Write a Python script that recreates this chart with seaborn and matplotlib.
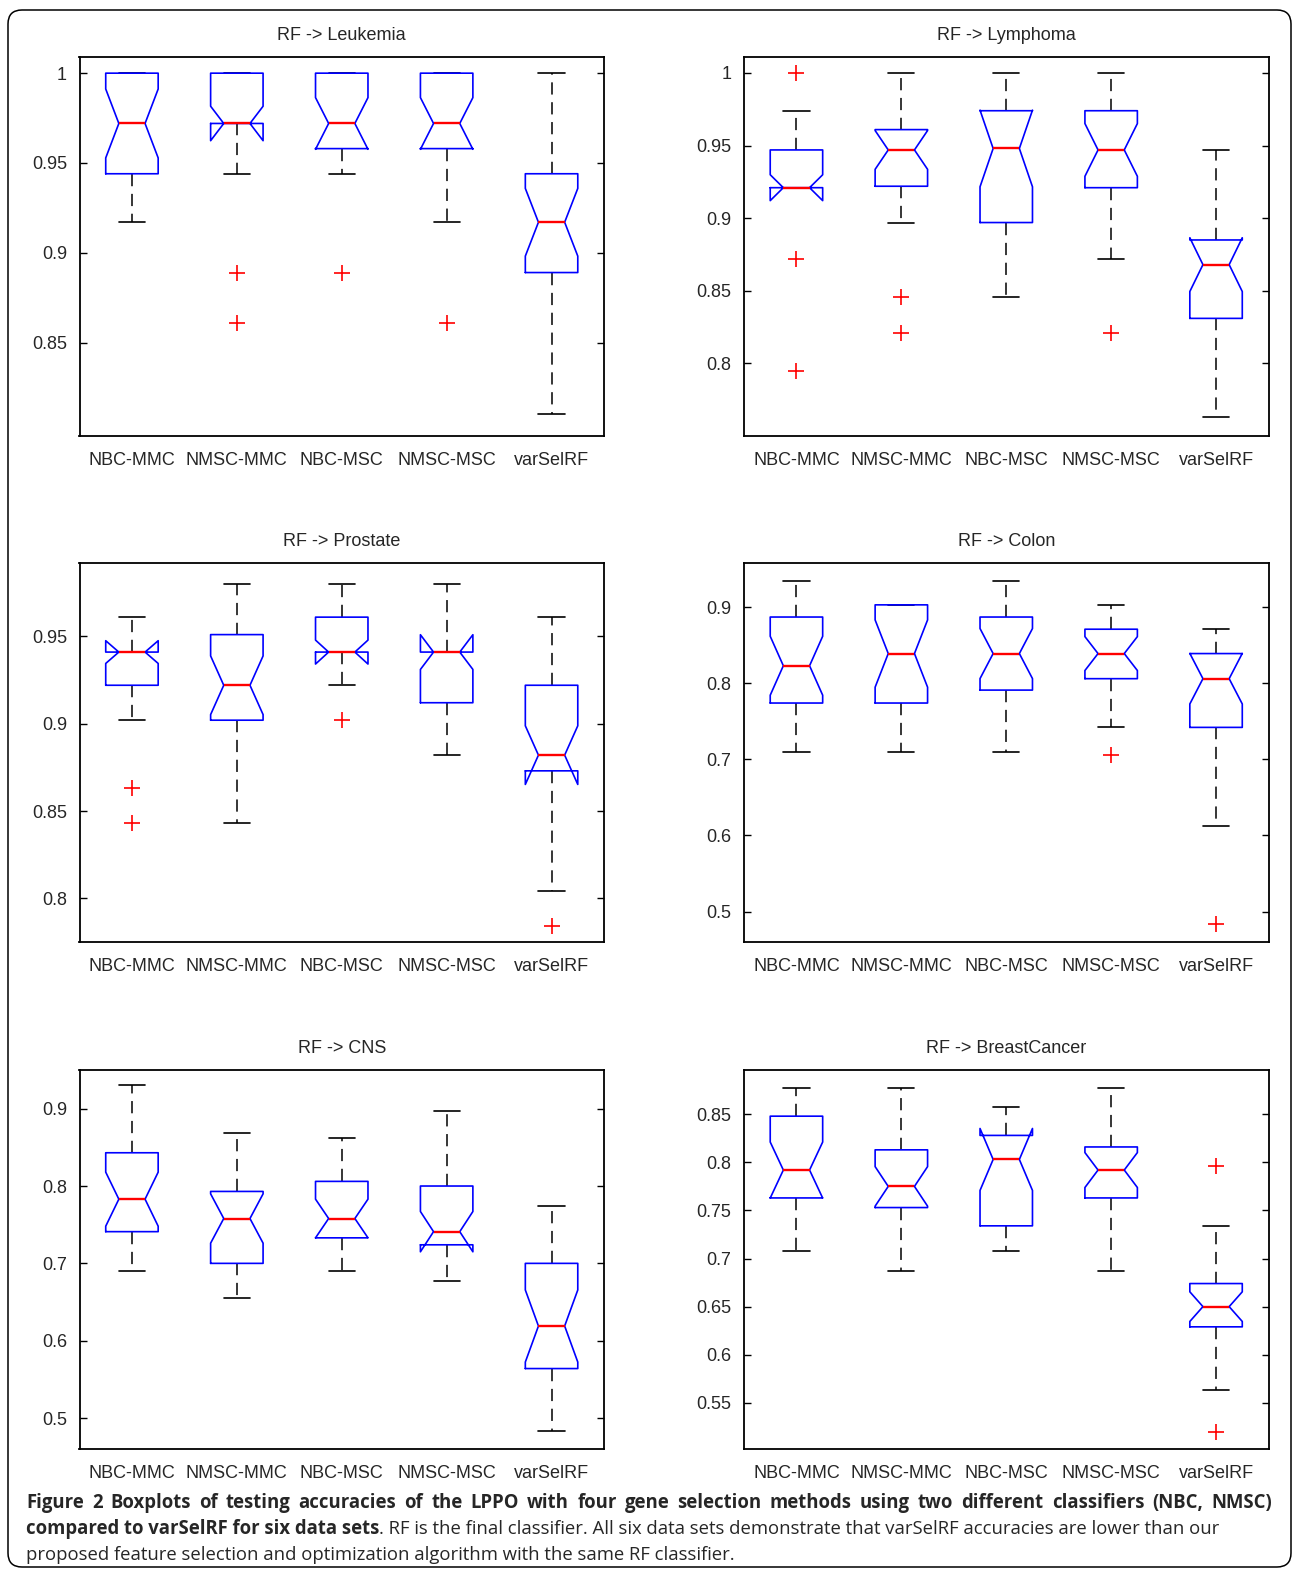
"""
Notched boxplots of LPPO testing accuracies vs varSelRF for six data sets (RF classifier).
"""
import matplotlib

matplotlib.use("Agg")
import matplotlib.pyplot as plt
import pandas as pd
import seaborn as sns
from matplotlib.patches import FancyBboxPatch
from matplotlib.ticker import FuncFormatter

METHODS = ["NBC-MMC", "NMSC-MMC", "NBC-MSC", "NMSC-MSC", "varSelRF"]

# 21 accuracies per method (quartiles, whiskers, outliers)
LEUKEMIA = [
    [0.917, 0.917, 0.944, 0.944, 0.944, 0.944, 0.944, 0.972, 0.972, 0.972, 0.972, 0.972, 0.972, 1.0, 1.0, 1.0, 1.0, 1.0, 1.0, 1.0, 1.0],
    [0.861, 0.889, 0.944, 0.944, 0.944, 0.972, 0.972, 0.972, 0.972, 0.972, 0.972, 0.972, 1.0, 1.0, 1.0, 1.0, 1.0, 1.0, 1.0, 1.0, 1.0],
    [0.889, 0.944, 0.944, 0.944, 0.958, 0.958, 0.972, 0.972, 0.972, 0.972, 0.972, 0.972, 1.0, 1.0, 1.0, 1.0, 1.0, 1.0, 1.0, 1.0, 1.0],
    [0.861, 0.917, 0.944, 0.944, 0.944, 0.958, 0.972, 0.972, 0.972, 0.972, 0.972, 0.972, 1.0, 1.0, 1.0, 1.0, 1.0, 1.0, 1.0, 1.0, 1.0],
    [0.81, 0.833, 0.861, 0.861, 0.889, 0.889, 0.889, 0.917, 0.917, 0.917, 0.917, 0.917, 0.944, 0.944, 0.944, 0.944, 0.944, 0.972, 0.972, 1.0, 1.0],
]
LYMPHOMA = [
    [0.795, 0.872, 0.921, 0.921, 0.921, 0.921, 0.921, 0.921, 0.921, 0.921, 0.921, 0.921, 0.947, 0.947, 0.947, 0.947, 0.947, 0.947, 0.974, 0.974, 1.0],
    [0.821, 0.846, 0.897, 0.897, 0.921, 0.922, 0.947, 0.947, 0.947, 0.947, 0.947, 0.947, 0.947, 0.961, 0.961, 0.961, 0.974, 0.974, 1.0, 1.0, 1.0],
    [0.846, 0.872, 0.872, 0.897, 0.897, 0.897, 0.921, 0.921, 0.947, 0.947, 0.948, 0.948, 0.974, 0.974, 0.974, 0.974, 0.974, 1.0, 1.0, 1.0, 1.0],
    [0.821, 0.872, 0.897, 0.897, 0.921, 0.921, 0.921, 0.947, 0.947, 0.947, 0.947, 0.947, 0.947, 0.974, 0.974, 0.974, 0.974, 0.974, 1.0, 1.0, 1.0],
    [0.763, 0.795, 0.795, 0.821, 0.821, 0.831, 0.846, 0.846, 0.846, 0.868, 0.868, 0.872, 0.872, 0.872, 0.885, 0.885, 0.897, 0.897, 0.921, 0.921, 0.947],
]
PROSTATE = [
    [0.843, 0.863, 0.902, 0.902, 0.922, 0.922, 0.922, 0.941, 0.941, 0.941, 0.941, 0.941, 0.941, 0.941, 0.941, 0.941, 0.961, 0.961, 0.961, 0.961, 0.961],
    [0.843, 0.863, 0.882, 0.882, 0.902, 0.902, 0.902, 0.922, 0.922, 0.922, 0.922, 0.941, 0.941, 0.941, 0.941, 0.951, 0.961, 0.961, 0.961, 0.980, 0.980],
    [0.902, 0.922, 0.922, 0.922, 0.941, 0.941, 0.941, 0.941, 0.941, 0.941, 0.941, 0.941, 0.941, 0.961, 0.961, 0.961, 0.961, 0.961, 0.980, 0.980, 0.980],
    [0.882, 0.882, 0.902, 0.902, 0.902, 0.912, 0.922, 0.922, 0.922, 0.941, 0.941, 0.941, 0.941, 0.941, 0.941, 0.941, 0.961, 0.961, 0.961, 0.980, 0.980],
    [0.784, 0.804, 0.824, 0.843, 0.863, 0.873, 0.882, 0.882, 0.882, 0.882, 0.882, 0.902, 0.902, 0.902, 0.922, 0.922, 0.941, 0.941, 0.941, 0.961, 0.961],
]
COLON = [
    [0.710, 0.742, 0.742, 0.774, 0.774, 0.774, 0.806, 0.806, 0.806, 0.806, 0.823, 0.839, 0.839, 0.871, 0.871, 0.887, 0.903, 0.903, 0.935, 0.935, 0.935],
    [0.710, 0.742, 0.742, 0.774, 0.774, 0.774, 0.806, 0.806, 0.806, 0.839, 0.839, 0.839, 0.871, 0.871, 0.871, 0.903, 0.903, 0.903, 0.903, 0.903, 0.903],
    [0.710, 0.742, 0.774, 0.774, 0.774, 0.791, 0.806, 0.806, 0.806, 0.839, 0.839, 0.839, 0.871, 0.871, 0.871, 0.887, 0.903, 0.903, 0.935, 0.935, 0.935],
    [0.706, 0.742, 0.774, 0.774, 0.806, 0.806, 0.806, 0.839, 0.839, 0.839, 0.839, 0.839, 0.839, 0.871, 0.871, 0.871, 0.871, 0.871, 0.903, 0.903, 0.903],
    [0.484, 0.613, 0.677, 0.710, 0.710, 0.742, 0.742, 0.774, 0.774, 0.806, 0.806, 0.806, 0.806, 0.839, 0.839, 0.839, 0.839, 0.839, 0.871, 0.871, 0.871],
]
CNS = [
    [0.690, 0.724, 0.724, 0.741, 0.741, 0.741, 0.759, 0.759, 0.776, 0.776, 0.783, 0.793, 0.793, 0.828, 0.828, 0.843, 0.862, 0.862, 0.897, 0.897, 0.931],
    [0.655, 0.690, 0.690, 0.690, 0.700, 0.700, 0.724, 0.724, 0.741, 0.741, 0.758, 0.776, 0.776, 0.793, 0.793, 0.793, 0.828, 0.828, 0.845, 0.862, 0.869],
    [0.690, 0.707, 0.724, 0.724, 0.733, 0.733, 0.741, 0.741, 0.758, 0.758, 0.758, 0.776, 0.776, 0.793, 0.793, 0.806, 0.828, 0.828, 0.845, 0.862, 0.862],
    [0.677, 0.690, 0.707, 0.724, 0.724, 0.724, 0.724, 0.741, 0.741, 0.741, 0.741, 0.759, 0.776, 0.793, 0.793, 0.800, 0.828, 0.845, 0.862, 0.897, 0.897],
    [0.483, 0.517, 0.534, 0.552, 0.552, 0.564, 0.586, 0.586, 0.603, 0.603, 0.619, 0.638, 0.655, 0.672, 0.690, 0.700, 0.724, 0.724, 0.741, 0.759, 0.774],
]
BREAST = [
    [0.708, 0.729, 0.729, 0.750, 0.750, 0.763, 0.771, 0.771, 0.792, 0.792, 0.792, 0.813, 0.813, 0.833, 0.833, 0.848, 0.854, 0.854, 0.875, 0.875, 0.877],
    [0.687, 0.708, 0.729, 0.729, 0.750, 0.753, 0.771, 0.771, 0.771, 0.771, 0.775, 0.792, 0.792, 0.792, 0.813, 0.813, 0.833, 0.833, 0.854, 0.875, 0.877],
    [0.708, 0.708, 0.729, 0.729, 0.729, 0.734, 0.750, 0.771, 0.792, 0.792, 0.803, 0.813, 0.813, 0.813, 0.828, 0.828, 0.833, 0.833, 0.854, 0.854, 0.858],
    [0.687, 0.708, 0.729, 0.750, 0.750, 0.763, 0.771, 0.771, 0.792, 0.792, 0.792, 0.792, 0.813, 0.813, 0.813, 0.816, 0.833, 0.833, 0.854, 0.875, 0.877],
    [0.520, 0.563, 0.583, 0.604, 0.625, 0.629, 0.635, 0.646, 0.646, 0.646, 0.650, 0.656, 0.667, 0.667, 0.667, 0.674, 0.688, 0.708, 0.708, 0.734, 0.796],
]

TITLES = ["RF -> Leukemia", "RF -> Lymphoma", "RF -> Prostate", "RF -> Colon", "RF -> CNS", "RF -> BreastCancer"]
DATASETS = [LEUKEMIA, LYMPHOMA, PROSTATE, COLON, CNS, BREAST]
YLIMS = [(0.798, 1.009), (0.750, 1.011), (0.775, 0.992), (0.460, 0.958), (0.460, 0.950), (0.502, 0.896)]
YTICKS = [
    [0.85, 0.9, 0.95, 1.0],
    [0.8, 0.85, 0.9, 0.95, 1.0],
    [0.8, 0.85, 0.9, 0.95],
    [0.5, 0.6, 0.7, 0.8, 0.9],
    [0.5, 0.6, 0.7, 0.8, 0.9],
    [0.55, 0.6, 0.65, 0.7, 0.75, 0.8, 0.85],
]

CAPTION_BOLD_1 = ("Figure 2 Boxplots of testing accuracies of the LPPO with four gene selection "
                  "methods using two different classifiers (NBC, NMSC)")
CAPTION_BOLD_2 = "compared to varSelRF for six data sets"
CAPTION_REST_2 = (". RF is the final classifier. All six data sets demonstrate that varSelRF "
                  "accuracies are lower than our")
CAPTION_3 = "proposed feature selection and optimization algorithm with the same RF classifier."

W, H = 1295, 1575
sns.set_style("white")
plt.rcParams["font.family"] = ["Liberation Sans", "DejaVu Sans"]

fig = plt.figure(figsize=(W / 100, H / 100), dpi=100)

# panel frames in pixels: (left, top), same size for all
col_left = [79.5, 744]
row_top = [57, 563, 1070]
ax_w, ax_h = 524.5, 379

for i, (title, groups) in enumerate(zip(TITLES, DATASETS)):
    r, c = divmod(i, 2)
    ax = fig.add_axes([col_left[c] / W, 1 - (row_top[r] + ax_h) / H, ax_w / W, ax_h / H])

    df = pd.DataFrame(
        [(m, v) for m, vals in zip(METHODS, groups) for v in vals],
        columns=["method", "accuracy"],
    )
    sns.boxplot(
        data=df, x="method", y="accuracy", order=METHODS, ax=ax,
        width=0.5, fill=False, notch=True, whis=1.5,
        boxprops=dict(color="#0000ff", linewidth=1.2, zorder=3),
        medianprops=dict(color="#ff0000", linewidth=1.7, zorder=4),
        whiskerprops=dict(color="black", linewidth=1.1, linestyle=(0, (8, 5)), zorder=2),
        capprops=dict(color="black", linewidth=1.2, zorder=2),
        flierprops=dict(marker="+", markeredgecolor="#ff0000", markersize=11,
                        markeredgewidth=1.2, zorder=2),
    )

    ax.set_xlim(-0.5, 4.5)
    ax.set_ylim(*YLIMS[i])
    ax.set_yticks(YTICKS[i])
    ax.yaxis.set_major_formatter(FuncFormatter(lambda v, _: f"{v:g}"))
    ax.set_xlabel("")
    ax.set_ylabel("")
    ax.set_title(title, fontsize=13, pad=12)
    ax.tick_params(axis="y", direction="in", left=True, right=True, length=5, width=1.0,
                   color="black", labelsize=13, pad=9)
    ax.tick_params(axis="x", length=0, labelsize=13, pad=11.5)
    for sp in ax.spines.values():
        sp.set_visible(True)
        sp.set_color("black")
        sp.set_linewidth(1.3)

# rounded frame around the whole figure
frame = FancyBboxPatch((0.08, 0.08), 12.83, 15.57, boxstyle="round,pad=0,rounding_size=0.14",
                       transform=fig.dpi_scale_trans, fill=False, edgecolor="black", linewidth=1.1)
fig.add_artist(frame)

# caption: size fitted so the bold start of line 2 spans the same width as in the source
cap_family = ["Open Sans", "DejaVu Sans"]
x_left = 26
y1, y2, y3 = (1 - 1503 / H), (1 - 1529 / H), (1 - 1555 / H)

bold2 = fig.text(x_left / W, y2, CAPTION_BOLD_2, fontsize=12.5, fontweight="bold",
                 family=cap_family, va="center")
fig.canvas.draw()
size = 12.5 * 353 / bold2.get_window_extent().width
bold2.set_fontsize(size)

# first line is justified between the left margin and x=1272
words = CAPTION_BOLD_1.split(" ")
word_texts = [fig.text(0, y1, w, fontsize=size, fontweight="bold", family=cap_family, va="center")
              for w in words]
fig.canvas.draw()
widths = [t.get_window_extent().width for t in word_texts]
gap = (1272 - x_left - sum(widths)) / (len(words) - 1)
x = x_left
for t, w in zip(word_texts, widths):
    t.set_x(x / W)
    x += w + gap

x_end = bold2.get_window_extent().x1 / W
fig.text(x_end, y2, CAPTION_REST_2, fontsize=size, family=cap_family, va="center")
fig.text(x_left / W, y3, CAPTION_3, fontsize=size, family=cap_family, va="center")

fig.savefig("out.png", dpi=100, facecolor="white")
